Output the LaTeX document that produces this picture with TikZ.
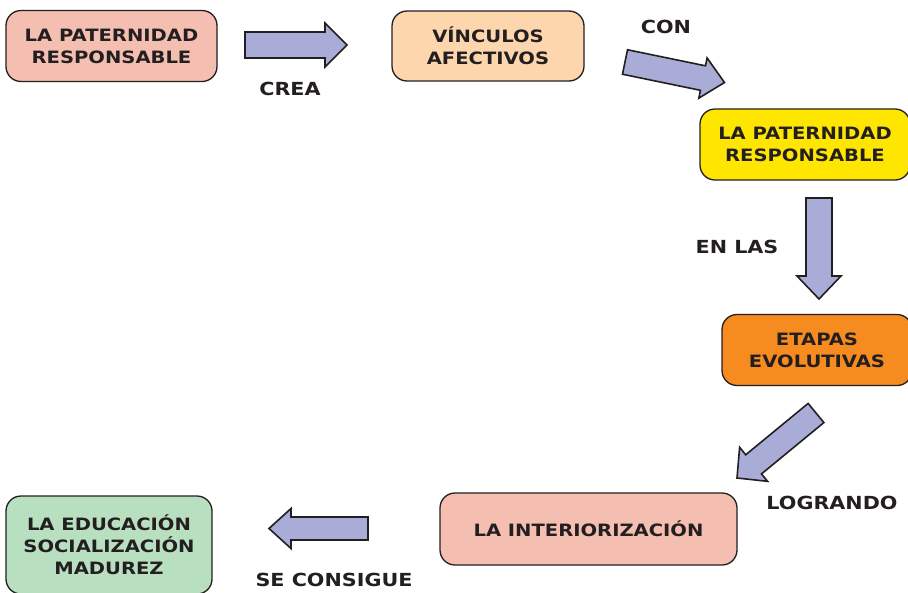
\documentclass[tikz,border=0pt]{standalone}
\usepackage{fontspec}
\setmainfont{DejaVu Sans}[FakeStretch=1.15]
\usetikzlibrary{calc}
\definecolor{salmon}{HTML}{F4BFB1}
\definecolor{peach}{HTML}{FDD6AE}
\definecolor{yel}{HTML}{FFE600}
\definecolor{orng}{HTML}{F68B1F}
\definecolor{grn}{HTML}{B9DFC1}
\definecolor{lav}{HTML}{A9ACD6}
\definecolor{ink}{HTML}{231F20}
\tikzset{
  box/.style={draw=ink, line width=1.3pt, rounded corners=15pt, align=center,
    text=ink, font=\fontsize{17}{22}\selectfont\bfseries, inner sep=0pt},
  lbl/.style={text=ink, font=\fontsize{18}{20}\selectfont\bfseries, inner sep=0pt},
  blockarr/.style={draw=ink, line width=1.6pt, fill=lav, line join=miter}
}
% #1 tail, #2 tip, #3 half shaft, #4 half head, #5 head length, #6 prefix
\newcommand\blockarrow[6]{%
  \coordinate (#6h) at ($(#2)!#5!(#1)$);
  \draw[blockarr] ($(#1)!#3!90:(#2)$) -- ($(#6h)!#3!-90:(#1)$)
    -- ($(#6h)!#4!-90:(#1)$) -- (#2) -- ($(#6h)!#4!90:(#1)$)
    -- ($(#6h)!#3!90:(#1)$) -- ($(#1)!#3!-90:(#2)$) -- cycle;
}
\begin{document}
\begin{tikzpicture}[x=1pt,y=-1pt]
\useasboundingbox (0,0) rectangle (908,592);
\fill[white] (0,0) rectangle (908,592);

\node[box, fill=salmon, minimum width=211pt, minimum height=71pt] (b1) at (111.5,46) {LA PATERNIDAD\\RESPONSABLE};
\node[box, fill=peach, minimum width=192pt, minimum height=70pt] (b2) at (488,46) {VÍNCULOS\\AFECTIVOS};
\node[box, fill=yel, minimum width=210pt, minimum height=71pt] (b3) at (805,144.5) {LA PATERNIDAD\\RESPONSABLE};
\node[box, fill=orng, minimum width=190pt, minimum height=71pt] (b4) at (817,350) {ETAPAS\\EVOLUTIVAS};
\node[box, fill=salmon, minimum width=297pt, minimum height=72pt] (b5) at (588.5,529) {LA INTERIORIZACIÓN};
\node[box, fill=grn, minimum width=206pt, minimum height=98pt] (b6) at (109,545) {LA EDUCACIÓN\\SOCIALIZACIÓN\\MADUREZ};

\coordinate (a1t) at (245,45);  \coordinate (a1h) at (347,45);
\coordinate (a2t) at (625,62);  \coordinate (a2h) at (724.5,82.5);
\coordinate (a3t) at (819,198); \coordinate (a3h) at (819,299);
\coordinate (a4t) at (816,413); \coordinate (a4h) at (737,478);
\coordinate (a5t) at (368,528.5); \coordinate (a5h) at (269,528.5);

\blockarrow{a1t}{a1h}{13pt}{22pt}{22pt}{x1}
\blockarrow{a2t}{a2h}{12.5pt}{20.5pt}{22pt}{x2}
\blockarrow{a3t}{a3h}{13pt}{22pt}{23pt}{x3}
\blockarrow{a4t}{a4h}{12.4pt}{22pt}{21.5pt}{x4}
\blockarrow{a5t}{a5h}{11.5pt}{20pt}{22pt}{x5}

\node[lbl] (l1) at (290,88.5) {CREA};
\node[lbl] (l2) at (666,27) {CON};
\node[lbl] (l3) at (737,247) {EN LAS};
\node[lbl] (l4) at (832,503) {LOGRANDO};
\node[lbl] (l5) at (334,580) {SE CONSIGUE};
\end{tikzpicture}
\end{document}
